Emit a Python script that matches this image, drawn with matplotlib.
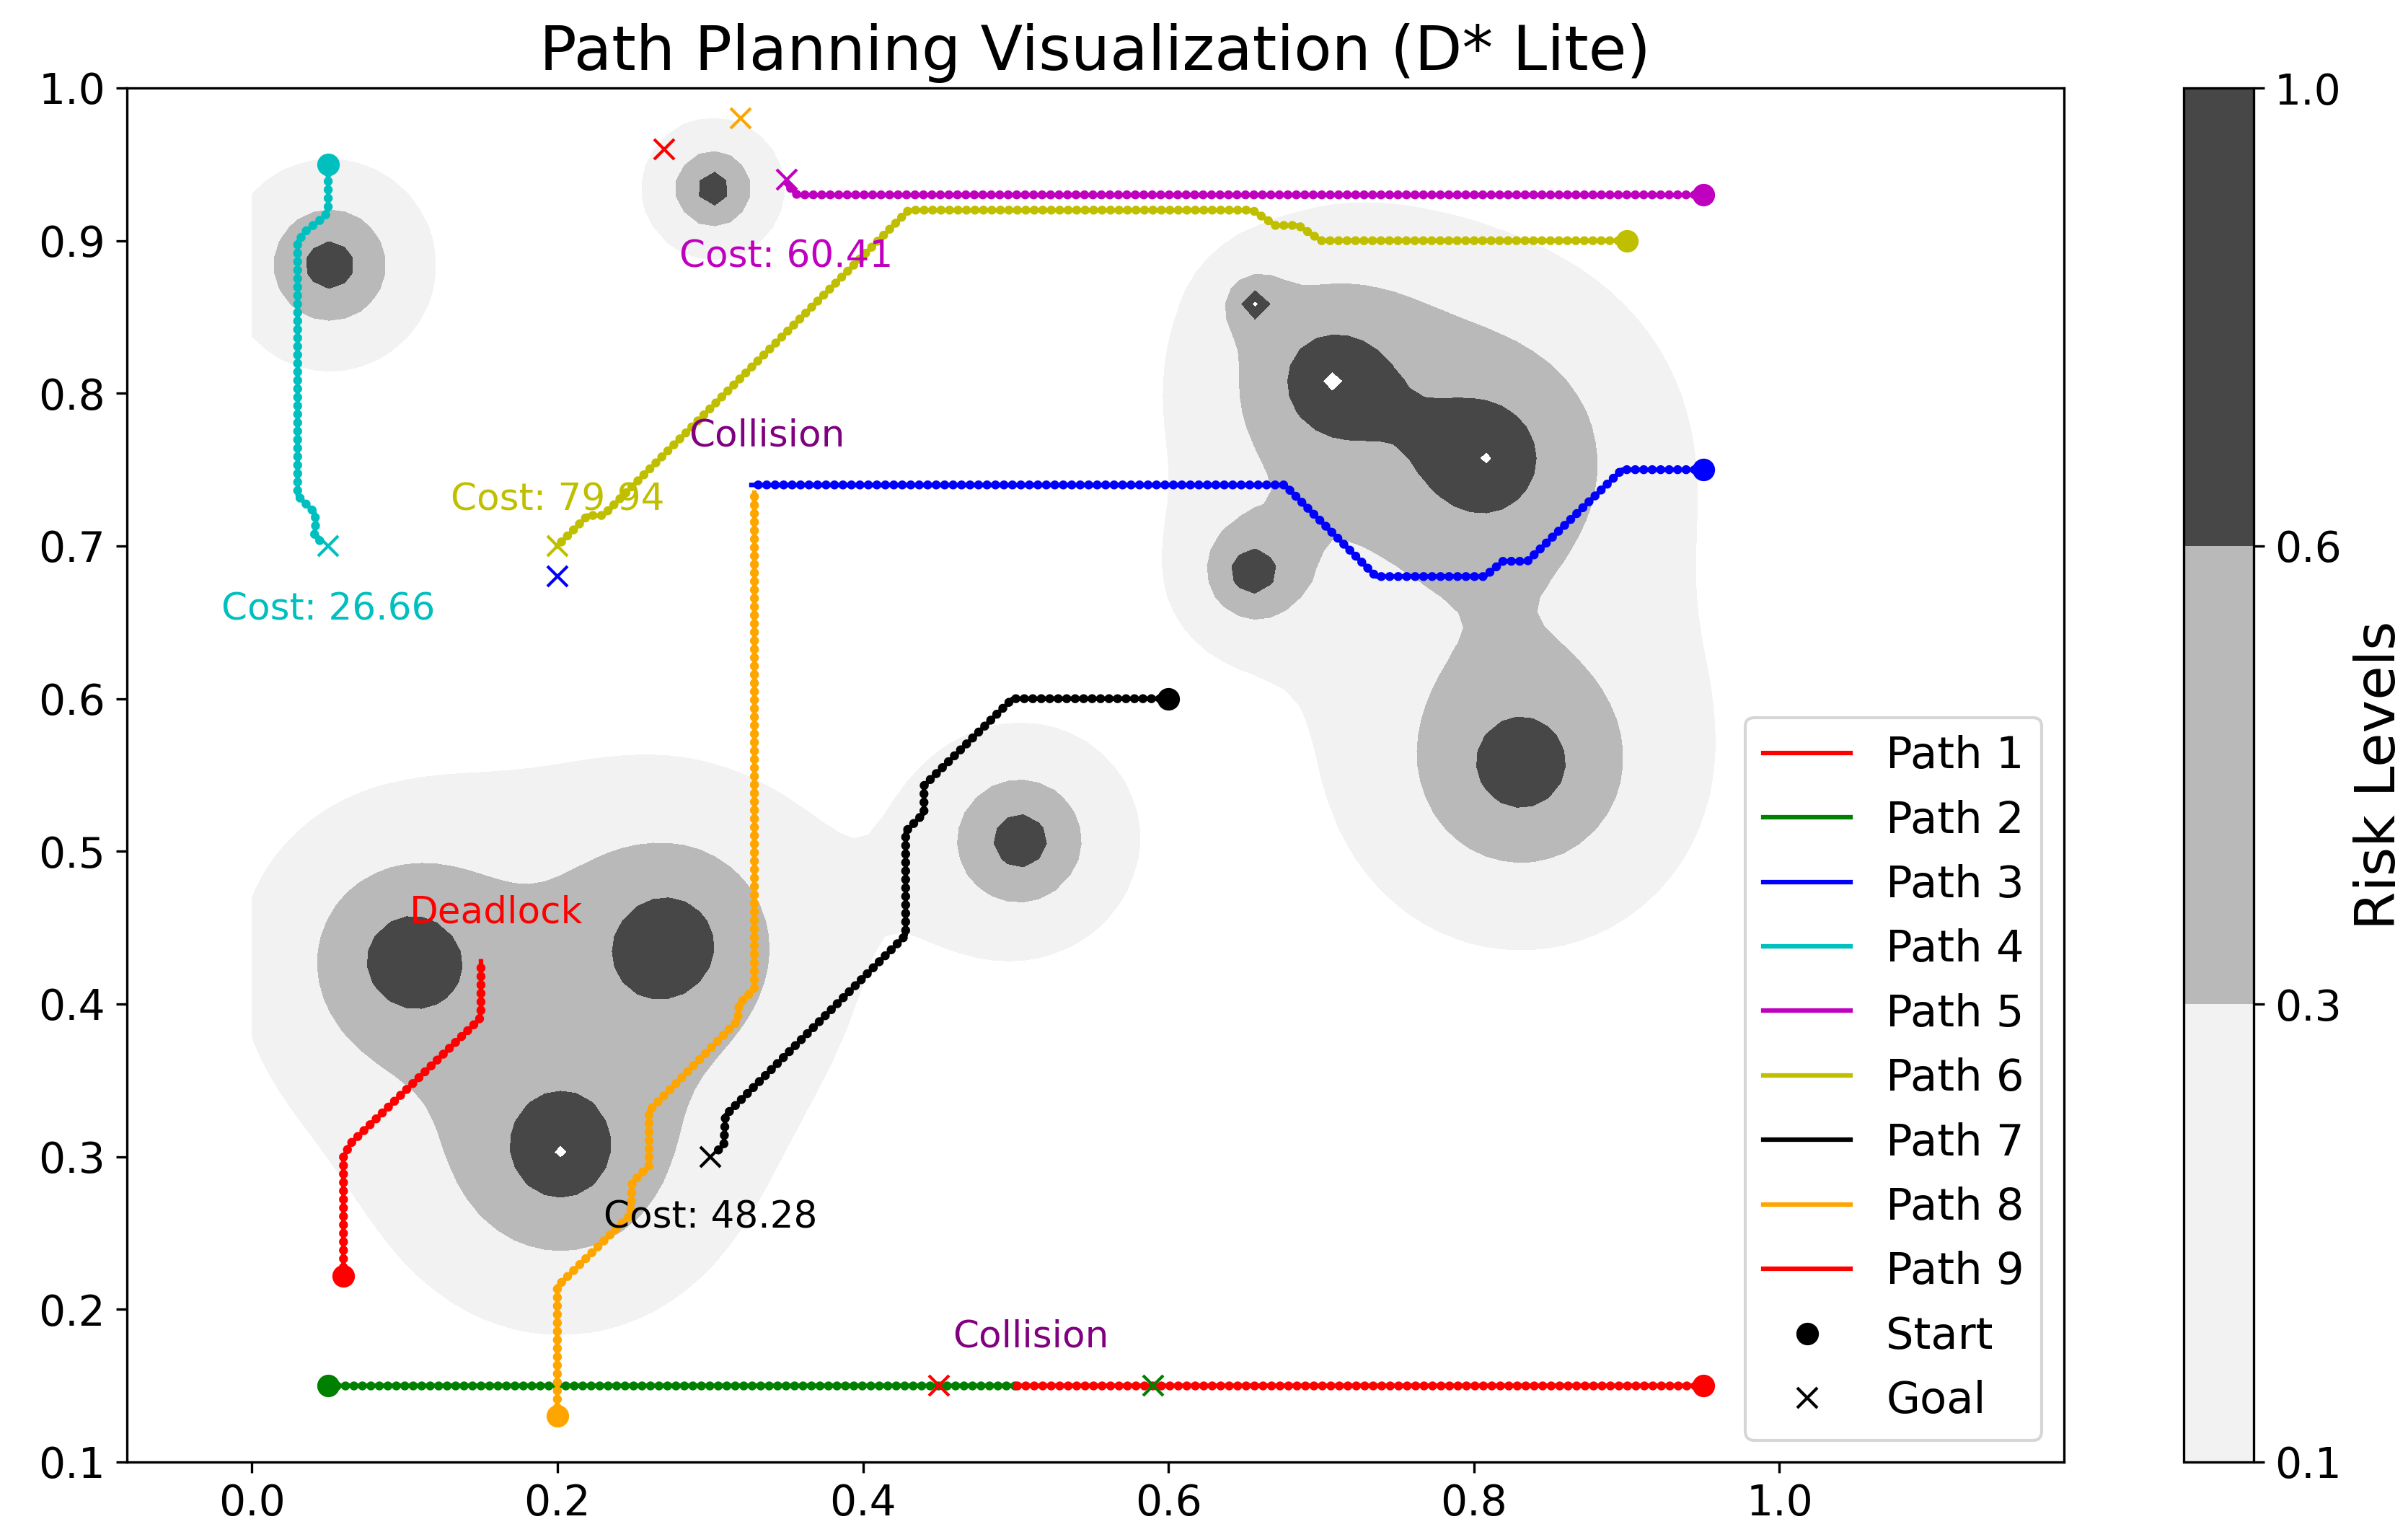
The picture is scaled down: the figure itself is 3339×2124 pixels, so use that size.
import numpy as np
import matplotlib
matplotlib.use("Agg")
import matplotlib.pyplot as plt
from matplotlib.lines import Line2D

# obstacles: centre, peak risk and decay length
obs_x = [0.051, 0.302, 0.503, 0.103, 0.2727, 0.2020, 0.7071, 0.8081, 0.655, 0.831, 0.6566]
obs_y = [0.884, 0.934, 0.507, 0.429, 0.4394, 0.3030, 0.8081, 0.7576, 0.683, 0.557, 0.8586]
obs_peak = [1.0, 1.0, 1.0, 1.0, 1.0, 1.0, 1.0, 0.97, 1.0, 1.0, 0.89]
obs_decay = [0.030, 0.020, 0.032, 0.046, 0.050, 0.050, 0.043, 0.056, 0.020, 0.052, 0.0099]

risk_levels = [0.1, 0.3, 0.6, 1.0]

# planned paths (waypoints)
p1_x = [0.06, 0.06, 0.065, 0.149, 0.15, 0.15]
p1_y = [0.222, 0.30, 0.309, 0.39, 0.396, 0.428]
p2_x = [0.05, 0.50]
p2_y = [0.15, 0.15]
p3_x = [0.95, 0.897, 0.835, 0.819, 0.807, 0.736, 0.676, 0.327]
p3_y = [0.75, 0.75, 0.69, 0.69, 0.68, 0.68, 0.74, 0.74]
p4_x = [0.05, 0.05, 0.048, 0.035, 0.03, 0.03, 0.037, 0.041, 0.042, 0.041, 0.045]
p4_y = [0.95, 0.921, 0.916, 0.906, 0.899, 0.733, 0.726, 0.722, 0.716, 0.707, 0.703]
p5_x = [0.95, 0.357, 0.35]
p5_y = [0.93, 0.93, 0.937]
p6_x = [0.90, 0.70, 0.685, 0.67, 0.655, 0.43, 0.23, 0.22, 0.20]
p6_y = [0.90, 0.90, 0.91, 0.91, 0.92, 0.92, 0.72, 0.72, 0.70]
p7_x = [0.60, 0.498, 0.44, 0.44, 0.428, 0.428, 0.31, 0.309, 0.305]
p7_y = [0.60, 0.60, 0.543, 0.525, 0.513, 0.445, 0.327, 0.308, 0.304]
p8_x = [0.20, 0.20, 0.248, 0.249, 0.26, 0.26, 0.318, 0.319, 0.329, 0.329]
p8_y = [0.13, 0.215, 0.262, 0.283, 0.294, 0.33, 0.389, 0.40, 0.41, 0.735]
p9_x = [0.95, 0.50]
p9_y = [0.15, 0.15]

goal_x = [0.27, 0.59, 0.20, 0.05, 0.35, 0.20, 0.30, 0.32, 0.45]
goal_y = [0.96, 0.15, 0.68, 0.70, 0.94, 0.70, 0.30, 0.98, 0.15]

cost_paths = [4, 5, 6, 7]
cost_values = [26.66, 60.41, 79.94, 48.28]

# (path number, status) events shown at the path's last point
event_paths = [1, 3, 9]
event_labels = ["Deadlock", "Collision", "Collision"]

path_colors = ["r", "g", "b", "c", "m", "y", "k", "orange", "r"]

paths = [(p1_x, p1_y), (p2_x, p2_y), (p3_x, p3_y), (p4_x, p4_y), (p5_x, p5_y),
         (p6_x, p6_y), (p7_x, p7_y), (p8_x, p8_y), (p9_x, p9_y)]

plt.rcParams["font.size"] = 14

fig = plt.figure(figsize=(3339 / 300, 2124 / 300), dpi=300)
ax = fig.add_axes([175.5 / 3339, 97 / 2124, 2686 / 3339, 1905 / 2124])
cax = fig.add_axes([3028 / 3339, 97 / 2124, 96.5 / 3339, 1905 / 2124])

# risk field
gx = np.linspace(0, 1, 100)
X, Y = np.meshgrid(gx, gx)
risk = np.zeros_like(X)
for ox, oy, pk, dk in zip(obs_x, obs_y, obs_peak, obs_decay):
    d = np.hypot(X - ox, Y - oy)
    risk += pk * np.exp(-d / dk)

cs = ax.contourf(X, Y, risk, levels=risk_levels, cmap="Greys", zorder=0)

for i, (xs, ys) in enumerate(paths):
    c = path_colors[i]
    ax.plot(xs, ys, color=c, lw=1.5, zorder=3)
    ax.plot(xs, ys, color=c, lw=3.0, linestyle=(0, (0.01, 0.93)),
            dash_capstyle="round", zorder=3)
    ax.plot(xs[0], ys[0], "o", color=c, markersize=6.5, zorder=4)
    ax.plot(goal_x[i], goal_y[i], "x", color=c, markersize=6.5, mew=1.0, zorder=4)

cost_offsets = [(0.0, -0.042), (0.0, -0.051), (0.0, 0.03), (0.0, -0.04)]
for n, val, (dx, dy) in zip(cost_paths, cost_values, cost_offsets):
    ax.text(goal_x[n - 1] + dx, goal_y[n - 1] + dy, f"Cost: {val:.2f}",
            color=path_colors[n - 1], fontsize=12.4, ha="center", va="center", zorder=5)

for n, lab in zip(event_paths, event_labels):
    xs, ys = paths[n - 1]
    col = "red" if lab == "Deadlock" else "purple"
    ax.text(xs[-1] + 0.01, ys[-1] + 0.02, lab, color=col, fontsize=12.4,
            ha="center", va="bottom", zorder=5)

ax.set_xlim(-0.082, 1.186)
ax.set_ylim(0.1, 1.0)
ax.set_title("Path Planning Visualization (D* Lite)", fontsize=20.6)

handles = [Line2D([], [], color=c, lw=1.5) for c in path_colors]
handles += [Line2D([], [], marker="o", color="k", linestyle="", markersize=6.5),
            Line2D([], [], marker="x", color="k", linestyle="", markersize=6.5)]
labels = [f"Path {i + 1}" for i in range(len(paths))] + ["Start", "Goal"]
ax.legend(handles, labels, loc="lower right", fontsize=14.6)

cb = fig.colorbar(cs, cax=cax)
cb.set_label("Risk Levels", fontsize=18.5)

fig.savefig("out.png", dpi=300)
